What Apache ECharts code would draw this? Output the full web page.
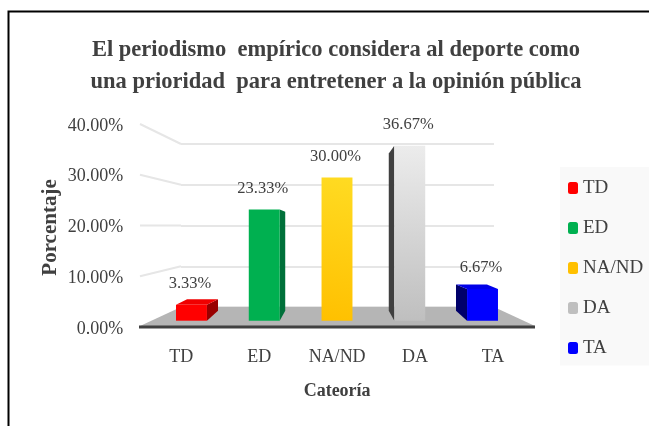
<!DOCTYPE html>
<html>
<head>
<meta charset="utf-8">
<style>
  html, body { margin: 0; padding: 0; background: #fff; }
  #main { width: 649px; height: 426px; }
</style>
<script src="https://cdn.jsdelivr.net/npm/echarts@6/dist/echarts.min.js"></script>
</head>
<body>
<div id="main"></div>
<script>
  // datos del grafico
  const categories = ['TD', 'ED', 'NA/ND', 'DA', 'TA'];
  const porcentajes = [3.33, 23.33, 30.0, 36.67, 6.67];
  const yTicks = [0, 10, 20, 30, 40];
  const titleLines = [
    'El periodismo  empírico considera al deporte como',
    'una prioridad  para entretener a la opinión pública'
  ];

  const serif = '"Liberation Serif", "Times New Roman", serif';
  const textColor = '#404040';

  // cara frontal, lateral y superior de cada barra
  const barColors = [
    { front: '#ff0000', side: '#990000', top: '#f00000' },
    { front: '#00b050', side: '#00703a', top: '#00b050' },
    { front: new echarts.graphic.LinearGradient(1, 0, 0, 1, [{ offset: 0, color: '#ffdb22' }, { offset: 1, color: '#ffc000' }]), side: '#b88a00', top: '#ffd91f' },
    { front: new echarts.graphic.LinearGradient(0, 0, 0, 1, [{ offset: 0, color: '#ececec' }, { offset: 1, color: '#bfbfbf' }]), side: '#404040', top: '#e8e8e8' },
    { front: '#0000ff', side: '#00006a', top: '#0000e8' }
  ];
  const legendColors = ['#ff0000', '#00b050', '#ffc000', '#bfbfbf', '#0000ff'];

  const myChart = echarts.init(document.getElementById('main'), null, { renderer: 'canvas' });

  // barra en falsa perspectiva, el fondo se abre segun la distancia al centro
  const renderBar = (idx) => (params, api) => {
    const p = api.coord([api.value(0), api.value(1)]);
    const base = api.coord([api.value(0), 0]);
    const center = api.coord([2, 0])[0];
    const w = api.size([1, 0])[0] * 0.425;
    const v = api.value(1);
    const dx = (center - p[0]) * 0.076;
    const dyTop = 7 - v * 0.4;
    const dyBase = 10;
    const l = p[0] - w / 2;
    const r = p[0] + w / 2;
    const edge = dx >= 0 ? r : l;
    const c = barColors[idx];
    const children = [];
    if (Math.abs(dx) > 1) {
      children.push({
        type: 'polygon',
        shape: { points: [[edge, p[1]], [edge + dx, p[1] - dyTop], [edge + dx, base[1] - dyBase], [edge, base[1]]] },
        style: { fill: c.side }
      });
    }
    if (dyTop > 0) {
      children.push({
        type: 'polygon',
        shape: { points: [[l, p[1]], [l + dx, p[1] - dyTop], [r + dx, p[1] - dyTop], [r, p[1]]] },
        style: { fill: c.top }
      });
    }
    children.push({
      type: 'rect',
      shape: { x: l, y: p[1], width: w, height: base[1] - p[1] },
      style: { fill: c.front }
    });
    children.push({
      type: 'text',
      style: {
        x: p[0] - 1.5,
        y: p[1] - 21,
        text: v.toFixed(2) + '%',
        align: 'center',
        verticalAlign: 'middle',
        fill: textColor,
        font: '16.5px ' + serif
      }
    });
    return { type: 'group', children };
  };

  // tramo inclinado de la pared lateral
  const renderWallSide = (params, api) => {
    const v = api.value(1);
    const p = api.coord([0, v]);
    const front = myChart.convertToPixel({ yAxisIndex: 0 }, v);
    return {
      type: 'line',
      shape: { x1: 140, y1: front - 2, x2: p[0], y2: p[1] },
      style: { stroke: '#e6e6e6', lineWidth: 2 }
    };
  };

  const renderFloor = (params, api) => {
    const a = api.coord([0, 0]);
    const b = api.coord([1, 0]);
    const y = a[1] + 19;
    return {
      type: 'group',
      children: [
        {
          type: 'polygon',
          shape: { points: [a, b, [b[0] + 41, y], [a[0] - 41, y]] },
          style: { fill: '#b5b5b5' }
        },
        {
          type: 'line',
          shape: { x1: a[0] - 42, y1: y + 1, x2: b[0] + 41, y2: y + 1 },
          style: { stroke: '#404040', lineWidth: 3 }
        }
      ]
    };
  };

  const barSeries = categories.map((name, i) => ({
    name,
    type: 'custom',
    coordinateSystem: 'cartesian2d',
    xAxisIndex: 2,
    yAxisIndex: 2,
    z: 5,
    renderItem: renderBar(i),
    itemStyle: { color: legendColors[i] },
    encode: { x: 0, y: 1 },
    data: [[i, porcentajes[i]]]
  }));

  myChart.setOption({
    animation: false,
    backgroundColor: '#fff',
    title: {
      text: titleLines.join('\n'),
      left: 331,
      top: 29,
      textAlign: 'center',
      textStyle: { fontFamily: serif, fontSize: 22.5, fontWeight: 'bold', color: textColor, lineHeight: 32 }
    },
    graphic: [
      {
        type: 'rect',
        z: 100,
        shape: { x: 8.5, y: 11.5, width: 800, height: 600 },
        style: { fill: 'none', stroke: '#000', lineWidth: 2 }
      }
    ],
    legend: {
      orient: 'vertical',
      left: 560,
      top: 167,
      backgroundColor: '#f9f9f9',
      padding: [11.5, 8, 8, 8],
      itemWidth: 10,
      itemHeight: 12,
      itemGap: 21,
      data: categories,
      textStyle: { fontFamily: serif, fontSize: 19, color: textColor }
    },
    grid: [
      // etiquetas visibles
      { left: 142.25, right: 117, top: 126, bottom: 97 },
      // pared del fondo
      { left: 181, right: 155, top: 144, bottom: 119 },
      // barras
      { left: 155.1, right: 130.1, top: 129.9, bottom: 105.3 }
    ],
    xAxis: [
      {
        type: 'category',
        gridIndex: 0,
        data: categories,
        name: 'Cateoría',
        nameLocation: 'middle',
        nameGap: 53,
        nameTextStyle: { fontFamily: serif, fontSize: 18, fontWeight: 'bold', color: textColor },
        axisLine: { show: false },
        axisTick: { show: false },
        axisLabel: { margin: 19, fontFamily: serif, fontSize: 18, color: textColor }
      },
      { type: 'value', gridIndex: 1, min: 0, max: 1, show: false },
      { type: 'category', gridIndex: 2, data: categories, show: false }
    ],
    yAxis: [
      {
        type: 'value',
        gridIndex: 0,
        min: yTicks[0],
        max: yTicks[yTicks.length - 1],
        interval: 10,
        name: 'Porcentaje',
        nameLocation: 'middle',
        nameGap: 81,
        nameMoveOverlap: false,
        nameTextStyle: { fontFamily: serif, fontSize: 21, fontWeight: 'bold', color: textColor },
        splitLine: { show: false },
        axisLine: { show: false },
        axisTick: { show: false },
        axisLabel: {
          margin: 19,
          fontFamily: serif,
          fontSize: 18,
          color: textColor,
          formatter: (v) => v.toFixed(2) + '%'
        }
      },
      {
        type: 'value',
        gridIndex: 1,
        min: 0,
        max: 40,
        interval: 10,
        axisLine: { show: false },
        axisTick: { show: false },
        axisLabel: { show: false },
        splitLine: { lineStyle: { color: '#e6e6e6', width: 2 } }
      },
      { type: 'value', gridIndex: 2, min: 0, max: 40, show: false }
    ],
    series: [
      {
        type: 'custom',
        coordinateSystem: 'cartesian2d',
        xAxisIndex: 1,
        yAxisIndex: 1,
        z: 1,
        silent: true,
        renderItem: renderWallSide,
        encode: { x: 0, y: 1 },
        data: yTicks.filter((v) => v > 0).map((v) => [0, v])
      },
      {
        type: 'custom',
        coordinateSystem: 'cartesian2d',
        xAxisIndex: 1,
        yAxisIndex: 1,
        z: 2,
        silent: true,
        renderItem: renderFloor,
        encode: { x: 0, y: 1 },
        data: [[0, 0]]
      },
      ...barSeries
    ]
  });
</script>
</body>
</html>
